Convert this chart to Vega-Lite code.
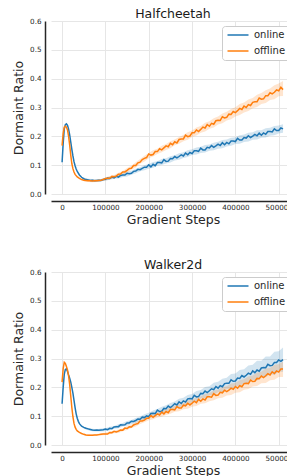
{
"$schema": "https://vega.github.io/schema/vega-lite/v6.json",
"background": "white",
"padding": {"left": 12, "top": 7, "right": 0, "bottom": 0},
"spacing": 32,
"config": {
 "font": "DejaVu Sans",
 "view": {"stroke": null},
 "axis": {"grid": true, "gridColor": "#e6e6e6", "gridWidth": 1, "domainColor": "#262626", "domainWidth": 1.5, "ticks": false, "labelFontSize": 7.2, "labelColor": "#262626", "titleFontSize": 12.5, "titleFontWeight": "normal", "titleColor": "#262626", "labelFlush": false, "labelOverlap": false},
 "title": {"fontSize": 12.5, "fontWeight": "normal", "color": "#1a1a1a", "offset": -3}
},
"datasets": {
"lines": [
{"p":"H","s":"online","x":0,"y":0.110},{"p":"H","s":"online","x":2500,"y":0.175},{"p":"H","s":"online","x":5000,"y":0.225},{"p":"H","s":"online","x":7500,"y":0.240},{"p":"H","s":"online","x":10000,"y":0.243},{"p":"H","s":"online","x":12500,"y":0.238},{"p":"H","s":"online","x":15000,"y":0.225},{"p":"H","s":"online","x":17500,"y":0.205},{"p":"H","s":"online","x":20000,"y":0.180},{"p":"H","s":"online","x":22500,"y":0.155},{"p":"H","s":"online","x":25000,"y":0.132},{"p":"H","s":"online","x":27500,"y":0.112},{"p":"H","s":"online","x":30000,"y":0.098},{"p":"H","s":"online","x":32500,"y":0.087},{"p":"H","s":"online","x":35000,"y":0.078},{"p":"H","s":"online","x":40000,"y":0.066},{"p":"H","s":"online","x":45000,"y":0.058},{"p":"H","s":"online","x":50000,"y":0.053},{"p":"H","s":"online","x":55000,"y":0.050},{"p":"H","s":"online","x":60000,"y":0.049},{"p":"H","s":"online","x":65000,"y":0.047},{"p":"H","s":"online","x":70000,"y":0.048},{"p":"H","s":"online","x":75000,"y":0.046},{"p":"H","s":"online","x":80000,"y":0.047},{"p":"H","s":"online","x":85000,"y":0.048},{"p":"H","s":"online","x":90000,"y":0.047},{"p":"H","s":"online","x":95000,"y":0.050},
{"p":"H","s":"online","x":100000,"y":0.051},{"p":"H","s":"online","x":105000,"y":0.055},{"p":"H","s":"online","x":110000,"y":0.0535},{"p":"H","s":"online","x":115000,"y":0.0585},{"p":"H","s":"online","x":120000,"y":0.056},{"p":"H","s":"online","x":125000,"y":0.061},{"p":"H","s":"online","x":130000,"y":0.0585},{"p":"H","s":"online","x":135000,"y":0.0645},{"p":"H","s":"online","x":140000,"y":0.0655},{"p":"H","s":"online","x":145000,"y":0.0655},{"p":"H","s":"online","x":150000,"y":0.072},{"p":"H","s":"online","x":155000,"y":0.070},{"p":"H","s":"online","x":160000,"y":0.072},{"p":"H","s":"online","x":165000,"y":0.0785},{"p":"H","s":"online","x":170000,"y":0.0795},{"p":"H","s":"online","x":175000,"y":0.0855},{"p":"H","s":"online","x":180000,"y":0.0845},{"p":"H","s":"online","x":185000,"y":0.089},{"p":"H","s":"online","x":190000,"y":0.093},{"p":"H","s":"online","x":195000,"y":0.0925},
{"p":"H","s":"online","x":200000,"y":0.101},{"p":"H","s":"online","x":205000,"y":0.094},{"p":"H","s":"online","x":210000,"y":0.103},{"p":"H","s":"online","x":215000,"y":0.098},{"p":"H","s":"online","x":220000,"y":0.109},{"p":"H","s":"online","x":225000,"y":0.109},{"p":"H","s":"online","x":230000,"y":0.108},{"p":"H","s":"online","x":235000,"y":0.119},{"p":"H","s":"online","x":240000,"y":0.113},{"p":"H","s":"online","x":245000,"y":0.114},{"p":"H","s":"online","x":250000,"y":0.123},{"p":"H","s":"online","x":255000,"y":0.122},{"p":"H","s":"online","x":260000,"y":0.130},{"p":"H","s":"online","x":265000,"y":0.125},{"p":"H","s":"online","x":270000,"y":0.130},{"p":"H","s":"online","x":275000,"y":0.136},{"p":"H","s":"online","x":280000,"y":0.132},{"p":"H","s":"online","x":285000,"y":0.142},{"p":"H","s":"online","x":290000,"y":0.136},{"p":"H","s":"online","x":295000,"y":0.144},
{"p":"H","s":"online","x":300000,"y":0.140},{"p":"H","s":"online","x":305000,"y":0.150},{"p":"H","s":"online","x":310000,"y":0.150},{"p":"H","s":"online","x":315000,"y":0.148},{"p":"H","s":"online","x":320000,"y":0.159},{"p":"H","s":"online","x":325000,"y":0.153},{"p":"H","s":"online","x":330000,"y":0.153},{"p":"H","s":"online","x":335000,"y":0.162},{"p":"H","s":"online","x":340000,"y":0.160},{"p":"H","s":"online","x":345000,"y":0.168},{"p":"H","s":"online","x":350000,"y":0.162},{"p":"H","s":"online","x":355000,"y":0.167},{"p":"H","s":"online","x":360000,"y":0.173},{"p":"H","s":"online","x":365000,"y":0.168},{"p":"H","s":"online","x":370000,"y":0.178},{"p":"H","s":"online","x":375000,"y":0.171},{"p":"H","s":"online","x":380000,"y":0.179},{"p":"H","s":"online","x":385000,"y":0.174},{"p":"H","s":"online","x":390000,"y":0.184},{"p":"H","s":"online","x":395000,"y":0.184},
{"p":"H","s":"online","x":400000,"y":0.182},{"p":"H","s":"online","x":405000,"y":0.193},{"p":"H","s":"online","x":410000,"y":0.187},{"p":"H","s":"online","x":415000,"y":0.187},{"p":"H","s":"online","x":420000,"y":0.196},{"p":"H","s":"online","x":425000,"y":0.194},{"p":"H","s":"online","x":430000,"y":0.202},{"p":"H","s":"online","x":435000,"y":0.196},{"p":"H","s":"online","x":440000,"y":0.201},{"p":"H","s":"online","x":445000,"y":0.207},{"p":"H","s":"online","x":450000,"y":0.202},{"p":"H","s":"online","x":455000,"y":0.211},{"p":"H","s":"online","x":460000,"y":0.204},{"p":"H","s":"online","x":465000,"y":0.212},{"p":"H","s":"online","x":470000,"y":0.207},{"p":"H","s":"online","x":475000,"y":0.217},{"p":"H","s":"online","x":480000,"y":0.217},{"p":"H","s":"online","x":485000,"y":0.215},{"p":"H","s":"online","x":490000,"y":0.226},{"p":"H","s":"online","x":495000,"y":0.220},{"p":"H","s":"online","x":500000,"y":0.220},{"p":"H","s":"online","x":505000,"y":0.229},{"p":"H","s":"online","x":510000,"y":0.226},
{"p":"H","s":"offline","x":0,"y":0.168},{"p":"H","s":"offline","x":2500,"y":0.210},{"p":"H","s":"offline","x":5000,"y":0.232},{"p":"H","s":"offline","x":7500,"y":0.235},{"p":"H","s":"offline","x":10000,"y":0.232},{"p":"H","s":"offline","x":12500,"y":0.222},{"p":"H","s":"offline","x":15000,"y":0.200},{"p":"H","s":"offline","x":17500,"y":0.170},{"p":"H","s":"offline","x":20000,"y":0.135},{"p":"H","s":"offline","x":22500,"y":0.105},{"p":"H","s":"offline","x":25000,"y":0.088},{"p":"H","s":"offline","x":27500,"y":0.076},{"p":"H","s":"offline","x":30000,"y":0.068},{"p":"H","s":"offline","x":35000,"y":0.059},{"p":"H","s":"offline","x":40000,"y":0.054},{"p":"H","s":"offline","x":45000,"y":0.050},{"p":"H","s":"offline","x":50000,"y":0.048},{"p":"H","s":"offline","x":55000,"y":0.047},{"p":"H","s":"offline","x":60000,"y":0.046},{"p":"H","s":"offline","x":65000,"y":0.046},{"p":"H","s":"offline","x":70000,"y":0.045},{"p":"H","s":"offline","x":75000,"y":0.046},{"p":"H","s":"offline","x":80000,"y":0.046},{"p":"H","s":"offline","x":85000,"y":0.047},{"p":"H","s":"offline","x":90000,"y":0.048},{"p":"H","s":"offline","x":95000,"y":0.050},
{"p":"H","s":"offline","x":100000,"y":0.0535},{"p":"H","s":"offline","x":105000,"y":0.0545},{"p":"H","s":"offline","x":110000,"y":0.0545},{"p":"H","s":"offline","x":115000,"y":0.061},{"p":"H","s":"offline","x":120000,"y":0.060},{"p":"H","s":"offline","x":125000,"y":0.062},{"p":"H","s":"offline","x":130000,"y":0.0685},{"p":"H","s":"offline","x":135000,"y":0.0695},{"p":"H","s":"offline","x":140000,"y":0.0765},{"p":"H","s":"offline","x":145000,"y":0.0765},{"p":"H","s":"offline","x":150000,"y":0.082},{"p":"H","s":"offline","x":155000,"y":0.088},{"p":"H","s":"offline","x":160000,"y":0.0895},{"p":"H","s":"offline","x":165000,"y":0.0985},{"p":"H","s":"offline","x":170000,"y":0.099},{"p":"H","s":"offline","x":175000,"y":0.108},{"p":"H","s":"offline","x":180000,"y":0.1105},{"p":"H","s":"offline","x":185000,"y":0.1195},{"p":"H","s":"offline","x":190000,"y":0.1235},{"p":"H","s":"offline","x":195000,"y":0.1265},
{"p":"H","s":"offline","x":200000,"y":0.139},{"p":"H","s":"offline","x":205000,"y":0.135},{"p":"H","s":"offline","x":210000,"y":0.137},{"p":"H","s":"offline","x":215000,"y":0.147},{"p":"H","s":"offline","x":220000,"y":0.147},{"p":"H","s":"offline","x":225000,"y":0.157},{"p":"H","s":"offline","x":230000,"y":0.153},{"p":"H","s":"offline","x":235000,"y":0.160},{"p":"H","s":"offline","x":240000,"y":0.167},{"p":"H","s":"offline","x":245000,"y":0.164},{"p":"H","s":"offline","x":250000,"y":0.176},{"p":"H","s":"offline","x":255000,"y":0.171},{"p":"H","s":"offline","x":260000,"y":0.181},{"p":"H","s":"offline","x":265000,"y":0.177},{"p":"H","s":"offline","x":270000,"y":0.189},{"p":"H","s":"offline","x":275000,"y":0.191},{"p":"H","s":"offline","x":280000,"y":0.191},{"p":"H","s":"offline","x":285000,"y":0.204},{"p":"H","s":"offline","x":290000,"y":0.199},{"p":"H","s":"offline","x":295000,"y":0.201},
{"p":"H","s":"offline","x":300000,"y":0.212},{"p":"H","s":"offline","x":305000,"y":0.212},{"p":"H","s":"offline","x":310000,"y":0.222},{"p":"H","s":"offline","x":315000,"y":0.217},{"p":"H","s":"offline","x":320000,"y":0.224},{"p":"H","s":"offline","x":325000,"y":0.232},{"p":"H","s":"offline","x":330000,"y":0.229},{"p":"H","s":"offline","x":335000,"y":0.241},{"p":"H","s":"offline","x":340000,"y":0.235},{"p":"H","s":"offline","x":345000,"y":0.245},{"p":"H","s":"offline","x":350000,"y":0.242},{"p":"H","s":"offline","x":355000,"y":0.254},{"p":"H","s":"offline","x":360000,"y":0.256},{"p":"H","s":"offline","x":365000,"y":0.255},{"p":"H","s":"offline","x":370000,"y":0.268},{"p":"H","s":"offline","x":375000,"y":0.264},{"p":"H","s":"offline","x":380000,"y":0.266},{"p":"H","s":"offline","x":385000,"y":0.277},{"p":"H","s":"offline","x":390000,"y":0.276},{"p":"H","s":"offline","x":395000,"y":0.286},
{"p":"H","s":"offline","x":400000,"y":0.282},{"p":"H","s":"offline","x":405000,"y":0.289},{"p":"H","s":"offline","x":410000,"y":0.297},{"p":"H","s":"offline","x":415000,"y":0.293},{"p":"H","s":"offline","x":420000,"y":0.305},{"p":"H","s":"offline","x":425000,"y":0.300},{"p":"H","s":"offline","x":430000,"y":0.310},{"p":"H","s":"offline","x":435000,"y":0.307},{"p":"H","s":"offline","x":440000,"y":0.318},{"p":"H","s":"offline","x":445000,"y":0.320},{"p":"H","s":"offline","x":450000,"y":0.320},{"p":"H","s":"offline","x":455000,"y":0.333},{"p":"H","s":"offline","x":460000,"y":0.329},{"p":"H","s":"offline","x":465000,"y":0.330},{"p":"H","s":"offline","x":470000,"y":0.341},{"p":"H","s":"offline","x":475000,"y":0.341},{"p":"H","s":"offline","x":480000,"y":0.351},{"p":"H","s":"offline","x":485000,"y":0.347},{"p":"H","s":"offline","x":490000,"y":0.353},{"p":"H","s":"offline","x":495000,"y":0.361},{"p":"H","s":"offline","x":500000,"y":0.358},{"p":"H","s":"offline","x":505000,"y":0.370},{"p":"H","s":"offline","x":510000,"y":0.362},
{"p":"W","s":"online","x":0,"y":0.143},{"p":"W","s":"online","x":2500,"y":0.200},{"p":"W","s":"online","x":5000,"y":0.245},{"p":"W","s":"online","x":7500,"y":0.262},{"p":"W","s":"online","x":10000,"y":0.264},{"p":"W","s":"online","x":12500,"y":0.255},{"p":"W","s":"online","x":15000,"y":0.243},{"p":"W","s":"online","x":17500,"y":0.232},{"p":"W","s":"online","x":20000,"y":0.218},{"p":"W","s":"online","x":22500,"y":0.200},{"p":"W","s":"online","x":25000,"y":0.180},{"p":"W","s":"online","x":27500,"y":0.155},{"p":"W","s":"online","x":30000,"y":0.130},{"p":"W","s":"online","x":32500,"y":0.108},{"p":"W","s":"online","x":35000,"y":0.093},{"p":"W","s":"online","x":37500,"y":0.082},{"p":"W","s":"online","x":40000,"y":0.074},{"p":"W","s":"online","x":45000,"y":0.065},{"p":"W","s":"online","x":50000,"y":0.061},{"p":"W","s":"online","x":55000,"y":0.058},{"p":"W","s":"online","x":60000,"y":0.056},{"p":"W","s":"online","x":65000,"y":0.054},{"p":"W","s":"online","x":70000,"y":0.052},{"p":"W","s":"online","x":75000,"y":0.051},{"p":"W","s":"online","x":80000,"y":0.052},{"p":"W","s":"online","x":85000,"y":0.051},{"p":"W","s":"online","x":90000,"y":0.052},{"p":"W","s":"online","x":95000,"y":0.053},
{"p":"W","s":"online","x":100000,"y":0.0555},{"p":"W","s":"online","x":105000,"y":0.053},{"p":"W","s":"online","x":110000,"y":0.058},{"p":"W","s":"online","x":115000,"y":0.0565},{"p":"W","s":"online","x":120000,"y":0.0625},{"p":"W","s":"online","x":125000,"y":0.0635},{"p":"W","s":"online","x":130000,"y":0.0635},{"p":"W","s":"online","x":135000,"y":0.070},{"p":"W","s":"online","x":140000,"y":0.069},{"p":"W","s":"online","x":145000,"y":0.070},{"p":"W","s":"online","x":150000,"y":0.0765},{"p":"W","s":"online","x":155000,"y":0.0765},{"p":"W","s":"online","x":160000,"y":0.0825},{"p":"W","s":"online","x":165000,"y":0.0815},{"p":"W","s":"online","x":170000,"y":0.085},{"p":"W","s":"online","x":175000,"y":0.090},{"p":"W","s":"online","x":180000,"y":0.0895},{"p":"W","s":"online","x":185000,"y":0.0965},{"p":"W","s":"online","x":190000,"y":0.095},{"p":"W","s":"online","x":195000,"y":0.101},
{"p":"W","s":"online","x":200000,"y":0.098},{"p":"W","s":"online","x":205000,"y":0.109},{"p":"W","s":"online","x":210000,"y":0.110},{"p":"W","s":"online","x":215000,"y":0.109},{"p":"W","s":"online","x":220000,"y":0.121},{"p":"W","s":"online","x":225000,"y":0.116},{"p":"W","s":"online","x":230000,"y":0.117},{"p":"W","s":"online","x":235000,"y":0.127},{"p":"W","s":"online","x":240000,"y":0.126},{"p":"W","s":"online","x":245000,"y":0.135},{"p":"W","s":"online","x":250000,"y":0.130},{"p":"W","s":"online","x":255000,"y":0.136},{"p":"W","s":"online","x":260000,"y":0.143},{"p":"W","s":"online","x":265000,"y":0.139},{"p":"W","s":"online","x":270000,"y":0.150},{"p":"W","s":"online","x":275000,"y":0.144},{"p":"W","s":"online","x":280000,"y":0.153},{"p":"W","s":"online","x":285000,"y":0.149},{"p":"W","s":"online","x":290000,"y":0.160},{"p":"W","s":"online","x":295000,"y":0.161},
{"p":"W","s":"online","x":300000,"y":0.160},{"p":"W","s":"online","x":305000,"y":0.172},{"p":"W","s":"online","x":310000,"y":0.167},{"p":"W","s":"online","x":315000,"y":0.168},{"p":"W","s":"online","x":320000,"y":0.179},{"p":"W","s":"online","x":325000,"y":0.178},{"p":"W","s":"online","x":330000,"y":0.187},{"p":"W","s":"online","x":335000,"y":0.182},{"p":"W","s":"online","x":340000,"y":0.188},{"p":"W","s":"online","x":345000,"y":0.195},{"p":"W","s":"online","x":350000,"y":0.192},{"p":"W","s":"online","x":355000,"y":0.203},{"p":"W","s":"online","x":360000,"y":0.197},{"p":"W","s":"online","x":365000,"y":0.206},{"p":"W","s":"online","x":370000,"y":0.202},{"p":"W","s":"online","x":375000,"y":0.213},{"p":"W","s":"online","x":380000,"y":0.214},{"p":"W","s":"online","x":385000,"y":0.214},{"p":"W","s":"online","x":390000,"y":0.226},{"p":"W","s":"online","x":395000,"y":0.221},
{"p":"W","s":"online","x":400000,"y":0.222},{"p":"W","s":"online","x":405000,"y":0.232},{"p":"W","s":"online","x":410000,"y":0.231},{"p":"W","s":"online","x":415000,"y":0.241},{"p":"W","s":"online","x":420000,"y":0.236},{"p":"W","s":"online","x":425000,"y":0.242},{"p":"W","s":"online","x":430000,"y":0.249},{"p":"W","s":"online","x":435000,"y":0.245},{"p":"W","s":"online","x":440000,"y":0.257},{"p":"W","s":"online","x":445000,"y":0.251},{"p":"W","s":"online","x":450000,"y":0.260},{"p":"W","s":"online","x":455000,"y":0.256},{"p":"W","s":"online","x":460000,"y":0.267},{"p":"W","s":"online","x":465000,"y":0.269},{"p":"W","s":"online","x":470000,"y":0.268},{"p":"W","s":"online","x":475000,"y":0.280},{"p":"W","s":"online","x":480000,"y":0.275},{"p":"W","s":"online","x":485000,"y":0.276},{"p":"W","s":"online","x":490000,"y":0.286},{"p":"W","s":"online","x":495000,"y":0.286},{"p":"W","s":"online","x":500000,"y":0.295},{"p":"W","s":"online","x":505000,"y":0.290},{"p":"W","s":"online","x":510000,"y":0.296},
{"p":"W","s":"offline","x":0,"y":0.218},{"p":"W","s":"offline","x":2500,"y":0.265},{"p":"W","s":"offline","x":5000,"y":0.287},{"p":"W","s":"offline","x":7500,"y":0.283},{"p":"W","s":"offline","x":10000,"y":0.272},{"p":"W","s":"offline","x":12500,"y":0.260},{"p":"W","s":"offline","x":15000,"y":0.240},{"p":"W","s":"offline","x":17500,"y":0.210},{"p":"W","s":"offline","x":20000,"y":0.170},{"p":"W","s":"offline","x":22500,"y":0.130},{"p":"W","s":"offline","x":25000,"y":0.098},{"p":"W","s":"offline","x":27500,"y":0.075},{"p":"W","s":"offline","x":30000,"y":0.062},{"p":"W","s":"offline","x":32500,"y":0.054},{"p":"W","s":"offline","x":35000,"y":0.049},{"p":"W","s":"offline","x":40000,"y":0.044},{"p":"W","s":"offline","x":45000,"y":0.040},{"p":"W","s":"offline","x":50000,"y":0.037},{"p":"W","s":"offline","x":55000,"y":0.035},{"p":"W","s":"offline","x":60000,"y":0.034},{"p":"W","s":"offline","x":65000,"y":0.034},{"p":"W","s":"offline","x":70000,"y":0.034},{"p":"W","s":"offline","x":75000,"y":0.035},{"p":"W","s":"offline","x":80000,"y":0.035},{"p":"W","s":"offline","x":85000,"y":0.036},{"p":"W","s":"offline","x":90000,"y":0.037},{"p":"W","s":"offline","x":95000,"y":0.038},
{"p":"W","s":"offline","x":100000,"y":0.038},{"p":"W","s":"offline","x":105000,"y":0.038},{"p":"W","s":"offline","x":110000,"y":0.0435},{"p":"W","s":"offline","x":115000,"y":0.0425},{"p":"W","s":"offline","x":120000,"y":0.0475},{"p":"W","s":"offline","x":125000,"y":0.0455},{"p":"W","s":"offline","x":130000,"y":0.048},{"p":"W","s":"offline","x":135000,"y":0.052},{"p":"W","s":"offline","x":140000,"y":0.0515},{"p":"W","s":"offline","x":145000,"y":0.0585},{"p":"W","s":"offline","x":150000,"y":0.057},{"p":"W","s":"offline","x":155000,"y":0.063},{"p":"W","s":"offline","x":160000,"y":0.0625},{"p":"W","s":"offline","x":165000,"y":0.0695},{"p":"W","s":"offline","x":170000,"y":0.0725},{"p":"W","s":"offline","x":175000,"y":0.0745},{"p":"W","s":"offline","x":180000,"y":0.083},{"p":"W","s":"offline","x":185000,"y":0.083},{"p":"W","s":"offline","x":190000,"y":0.086},{"p":"W","s":"offline","x":195000,"y":0.0925},
{"p":"W","s":"offline","x":200000,"y":0.093},{"p":"W","s":"offline","x":205000,"y":0.102},{"p":"W","s":"offline","x":210000,"y":0.096},{"p":"W","s":"offline","x":215000,"y":0.102},{"p":"W","s":"offline","x":220000,"y":0.108},{"p":"W","s":"offline","x":225000,"y":0.104},{"p":"W","s":"offline","x":230000,"y":0.114},{"p":"W","s":"offline","x":235000,"y":0.108},{"p":"W","s":"offline","x":240000,"y":0.116},{"p":"W","s":"offline","x":245000,"y":0.112},{"p":"W","s":"offline","x":250000,"y":0.123},{"p":"W","s":"offline","x":255000,"y":0.123},{"p":"W","s":"offline","x":260000,"y":0.122},{"p":"W","s":"offline","x":265000,"y":0.133},{"p":"W","s":"offline","x":270000,"y":0.128},{"p":"W","s":"offline","x":275000,"y":0.128},{"p":"W","s":"offline","x":280000,"y":0.138},{"p":"W","s":"offline","x":285000,"y":0.136},{"p":"W","s":"offline","x":290000,"y":0.145},{"p":"W","s":"offline","x":295000,"y":0.139},
{"p":"W","s":"offline","x":300000,"y":0.145},{"p":"W","s":"offline","x":305000,"y":0.152},{"p":"W","s":"offline","x":310000,"y":0.147},{"p":"W","s":"offline","x":315000,"y":0.158},{"p":"W","s":"offline","x":320000,"y":0.152},{"p":"W","s":"offline","x":325000,"y":0.160},{"p":"W","s":"offline","x":330000,"y":0.156},{"p":"W","s":"offline","x":335000,"y":0.167},{"p":"W","s":"offline","x":340000,"y":0.167},{"p":"W","s":"offline","x":345000,"y":0.166},{"p":"W","s":"offline","x":350000,"y":0.178},{"p":"W","s":"offline","x":355000,"y":0.172},{"p":"W","s":"offline","x":360000,"y":0.173},{"p":"W","s":"offline","x":365000,"y":0.183},{"p":"W","s":"offline","x":370000,"y":0.181},{"p":"W","s":"offline","x":375000,"y":0.190},{"p":"W","s":"offline","x":380000,"y":0.185},{"p":"W","s":"offline","x":385000,"y":0.190},{"p":"W","s":"offline","x":390000,"y":0.197},{"p":"W","s":"offline","x":395000,"y":0.193},
{"p":"W","s":"offline","x":400000,"y":0.203},{"p":"W","s":"offline","x":405000,"y":0.197},{"p":"W","s":"offline","x":410000,"y":0.206},{"p":"W","s":"offline","x":415000,"y":0.202},{"p":"W","s":"offline","x":420000,"y":0.213},{"p":"W","s":"offline","x":425000,"y":0.214},{"p":"W","s":"offline","x":430000,"y":0.213},{"p":"W","s":"offline","x":435000,"y":0.225},{"p":"W","s":"offline","x":440000,"y":0.220},{"p":"W","s":"offline","x":445000,"y":0.221},{"p":"W","s":"offline","x":450000,"y":0.231},{"p":"W","s":"offline","x":455000,"y":0.230},{"p":"W","s":"offline","x":460000,"y":0.239},{"p":"W","s":"offline","x":465000,"y":0.234},{"p":"W","s":"offline","x":470000,"y":0.240},{"p":"W","s":"offline","x":475000,"y":0.247},{"p":"W","s":"offline","x":480000,"y":0.243},{"p":"W","s":"offline","x":485000,"y":0.254},{"p":"W","s":"offline","x":490000,"y":0.248},{"p":"W","s":"offline","x":495000,"y":0.257},{"p":"W","s":"offline","x":500000,"y":0.253},{"p":"W","s":"offline","x":505000,"y":0.264},{"p":"W","s":"offline","x":510000,"y":0.264}
],
"bands": [
{"p":"H","s":"online","x":50000,"lo":0.049,"hi":0.057},{"p":"H","s":"online","x":60000,"lo":0.045,"hi":0.053},{"p":"H","s":"online","x":70000,"lo":0.044,"hi":0.052},{"p":"H","s":"online","x":80000,"lo":0.043,"hi":0.051},{"p":"H","s":"online","x":90000,"lo":0.044,"hi":0.052},{"p":"H","s":"online","x":100000,"lo":0.046,"hi":0.056},{"p":"H","s":"online","x":110000,"lo":0.049,"hi":0.061},{"p":"H","s":"online","x":120000,"lo":0.053,"hi":0.063},{"p":"H","s":"online","x":130000,"lo":0.054,"hi":0.068},{"p":"H","s":"online","x":140000,"lo":0.059,"hi":0.071},{"p":"H","s":"online","x":150000,"lo":0.061,"hi":0.077},{"p":"H","s":"online","x":160000,"lo":0.067,"hi":0.081},{"p":"H","s":"online","x":170000,"lo":0.072,"hi":0.088},{"p":"H","s":"online","x":180000,"lo":0.079,"hi":0.093},{"p":"H","s":"online","x":190000,"lo":0.082,"hi":0.100},{"p":"H","s":"online","x":200000,"lo":0.088,"hi":0.104},{"p":"H","s":"online","x":210000,"lo":0.091,"hi":0.111},{"p":"H","s":"online","x":220000,"lo":0.098,"hi":0.114},{"p":"H","s":"online","x":230000,"lo":0.101,"hi":0.121},{"p":"H","s":"online","x":240000,"lo":0.106,"hi":0.124},{"p":"H","s":"online","x":250000,"lo":0.109,"hi":0.131},{"p":"H","s":"online","x":260000,"lo":0.116,"hi":0.134},{"p":"H","s":"online","x":270000,"lo":0.119,"hi":0.141},{"p":"H","s":"online","x":280000,"lo":0.125,"hi":0.145},{"p":"H","s":"online","x":290000,"lo":0.128,"hi":0.152},{"p":"H","s":"online","x":300000,"lo":0.135,"hi":0.155},{"p":"H","s":"online","x":310000,"lo":0.137,"hi":0.161},{"p":"H","s":"online","x":320000,"lo":0.142,"hi":0.164},{"p":"H","s":"online","x":330000,"lo":0.144,"hi":0.170},{"p":"H","s":"online","x":340000,"lo":0.150,"hi":0.172},{"p":"H","s":"online","x":350000,"lo":0.152,"hi":0.178},{"p":"H","s":"online","x":360000,"lo":0.157,"hi":0.181},{"p":"H","s":"online","x":370000,"lo":0.159,"hi":0.187},{"p":"H","s":"online","x":380000,"lo":0.165,"hi":0.189},{"p":"H","s":"online","x":390000,"lo":0.167,"hi":0.195},{"p":"H","s":"online","x":400000,"lo":0.173,"hi":0.197},{"p":"H","s":"online","x":410000,"lo":0.174,"hi":0.204},{"p":"H","s":"online","x":420000,"lo":0.180,"hi":0.206},{"p":"H","s":"online","x":430000,"lo":0.182,"hi":0.212},{"p":"H","s":"online","x":440000,"lo":0.188,"hi":0.214},{"p":"H","s":"online","x":450000,"lo":0.189,"hi":0.221},{"p":"H","s":"online","x":460000,"lo":0.195,"hi":0.221},{"p":"H","s":"online","x":470000,"lo":0.196,"hi":0.228},{"p":"H","s":"online","x":480000,"lo":0.202,"hi":0.230},{"p":"H","s":"online","x":490000,"lo":0.204,"hi":0.236},{"p":"H","s":"online","x":500000,"lo":0.210,"hi":0.238},{"p":"H","s":"online","x":510000,"lo":0.212,"hi":0.242},
{"p":"H","s":"offline","x":50000,"lo":0.044,"hi":0.052},{"p":"H","s":"offline","x":60000,"lo":0.042,"hi":0.050},{"p":"H","s":"offline","x":70000,"lo":0.041,"hi":0.049},{"p":"H","s":"offline","x":80000,"lo":0.042,"hi":0.050},{"p":"H","s":"offline","x":90000,"lo":0.044,"hi":0.052},{"p":"H","s":"offline","x":100000,"lo":0.047,"hi":0.057},{"p":"H","s":"offline","x":110000,"lo":0.050,"hi":0.062},{"p":"H","s":"offline","x":120000,"lo":0.056,"hi":0.066},{"p":"H","s":"offline","x":130000,"lo":0.060,"hi":0.074},{"p":"H","s":"offline","x":140000,"lo":0.068,"hi":0.080},{"p":"H","s":"offline","x":150000,"lo":0.074,"hi":0.090},{"p":"H","s":"offline","x":160000,"lo":0.084,"hi":0.098},{"p":"H","s":"offline","x":170000,"lo":0.092,"hi":0.110},{"p":"H","s":"offline","x":180000,"lo":0.105,"hi":0.121},{"p":"H","s":"offline","x":190000,"lo":0.113,"hi":0.133},{"p":"H","s":"offline","x":200000,"lo":0.124,"hi":0.142},{"p":"H","s":"offline","x":210000,"lo":0.130,"hi":0.152},{"p":"H","s":"offline","x":220000,"lo":0.139,"hi":0.157},{"p":"H","s":"offline","x":230000,"lo":0.145,"hi":0.167},{"p":"H","s":"offline","x":240000,"lo":0.153,"hi":0.173},{"p":"H","s":"offline","x":250000,"lo":0.159,"hi":0.183},{"p":"H","s":"offline","x":260000,"lo":0.169,"hi":0.189},{"p":"H","s":"offline","x":270000,"lo":0.174,"hi":0.198},{"p":"H","s":"offline","x":280000,"lo":0.183,"hi":0.205},{"p":"H","s":"offline","x":290000,"lo":0.188,"hi":0.214},{"p":"H","s":"offline","x":300000,"lo":0.198,"hi":0.220},{"p":"H","s":"offline","x":310000,"lo":0.203,"hi":0.231},{"p":"H","s":"offline","x":320000,"lo":0.212,"hi":0.236},{"p":"H","s":"offline","x":330000,"lo":0.217,"hi":0.247},{"p":"H","s":"offline","x":340000,"lo":0.226,"hi":0.252},{"p":"H","s":"offline","x":350000,"lo":0.231,"hi":0.263},{"p":"H","s":"offline","x":360000,"lo":0.241,"hi":0.269},{"p":"H","s":"offline","x":370000,"lo":0.245,"hi":0.279},{"p":"H","s":"offline","x":380000,"lo":0.255,"hi":0.285},{"p":"H","s":"offline","x":390000,"lo":0.259,"hi":0.295},{"p":"H","s":"offline","x":400000,"lo":0.269,"hi":0.301},{"p":"H","s":"offline","x":410000,"lo":0.274,"hi":0.312},{"p":"H","s":"offline","x":420000,"lo":0.283,"hi":0.317},{"p":"H","s":"offline","x":430000,"lo":0.288,"hi":0.328},{"p":"H","s":"offline","x":440000,"lo":0.297,"hi":0.333},{"p":"H","s":"offline","x":450000,"lo":0.302,"hi":0.344},{"p":"H","s":"offline","x":460000,"lo":0.312,"hi":0.350},{"p":"H","s":"offline","x":470000,"lo":0.316,"hi":0.360},{"p":"H","s":"offline","x":480000,"lo":0.326,"hi":0.366},{"p":"H","s":"offline","x":490000,"lo":0.329,"hi":0.377},{"p":"H","s":"offline","x":500000,"lo":0.339,"hi":0.383},{"p":"H","s":"offline","x":510000,"lo":0.340,"hi":0.392},
{"p":"W","s":"online","x":50000,"lo":0.056,"hi":0.064},{"p":"W","s":"online","x":60000,"lo":0.051,"hi":0.059},{"p":"W","s":"online","x":70000,"lo":0.048,"hi":0.056},{"p":"W","s":"online","x":80000,"lo":0.047,"hi":0.055},{"p":"W","s":"online","x":90000,"lo":0.047,"hi":0.057},{"p":"W","s":"online","x":100000,"lo":0.048,"hi":0.058},{"p":"W","s":"online","x":110000,"lo":0.051,"hi":0.063},{"p":"W","s":"online","x":120000,"lo":0.056,"hi":0.066},{"p":"W","s":"online","x":130000,"lo":0.058,"hi":0.072},{"p":"W","s":"online","x":140000,"lo":0.064,"hi":0.076},{"p":"W","s":"online","x":150000,"lo":0.067,"hi":0.083},{"p":"W","s":"online","x":160000,"lo":0.073,"hi":0.087},{"p":"W","s":"online","x":170000,"lo":0.076,"hi":0.094},{"p":"W","s":"online","x":180000,"lo":0.083,"hi":0.099},{"p":"W","s":"online","x":190000,"lo":0.087,"hi":0.107},{"p":"W","s":"online","x":200000,"lo":0.094,"hi":0.112},{"p":"W","s":"online","x":210000,"lo":0.098,"hi":0.120},{"p":"W","s":"online","x":220000,"lo":0.105,"hi":0.125},{"p":"W","s":"online","x":230000,"lo":0.109,"hi":0.133},{"p":"W","s":"online","x":240000,"lo":0.116,"hi":0.138},{"p":"W","s":"online","x":250000,"lo":0.120,"hi":0.146},{"p":"W","s":"online","x":260000,"lo":0.127,"hi":0.151},{"p":"W","s":"online","x":270000,"lo":0.130,"hi":0.160},{"p":"W","s":"online","x":280000,"lo":0.138,"hi":0.164},{"p":"W","s":"online","x":290000,"lo":0.141,"hi":0.173},{"p":"W","s":"online","x":300000,"lo":0.149,"hi":0.177},{"p":"W","s":"online","x":310000,"lo":0.151,"hi":0.187},{"p":"W","s":"online","x":320000,"lo":0.161,"hi":0.191},{"p":"W","s":"online","x":330000,"lo":0.163,"hi":0.201},{"p":"W","s":"online","x":340000,"lo":0.172,"hi":0.204},{"p":"W","s":"online","x":350000,"lo":0.174,"hi":0.216},{"p":"W","s":"online","x":360000,"lo":0.183,"hi":0.219},{"p":"W","s":"online","x":370000,"lo":0.184,"hi":0.230},{"p":"W","s":"online","x":380000,"lo":0.193,"hi":0.233},{"p":"W","s":"online","x":390000,"lo":0.194,"hi":0.246},{"p":"W","s":"online","x":400000,"lo":0.204,"hi":0.248},{"p":"W","s":"online","x":410000,"lo":0.204,"hi":0.260},{"p":"W","s":"online","x":420000,"lo":0.215,"hi":0.263},{"p":"W","s":"online","x":430000,"lo":0.214,"hi":0.276},{"p":"W","s":"online","x":440000,"lo":0.226,"hi":0.278},{"p":"W","s":"online","x":450000,"lo":0.224,"hi":0.292},{"p":"W","s":"online","x":460000,"lo":0.236,"hi":0.292},{"p":"W","s":"online","x":470000,"lo":0.235,"hi":0.307},{"p":"W","s":"online","x":480000,"lo":0.247,"hi":0.307},{"p":"W","s":"online","x":490000,"lo":0.243,"hi":0.323},{"p":"W","s":"online","x":500000,"lo":0.255,"hi":0.325},{"p":"W","s":"online","x":510000,"lo":0.254,"hi":0.338},
{"p":"W","s":"offline","x":50000,"lo":0.034,"hi":0.040},{"p":"W","s":"offline","x":60000,"lo":0.031,"hi":0.037},{"p":"W","s":"offline","x":70000,"lo":0.031,"hi":0.037},{"p":"W","s":"offline","x":80000,"lo":0.032,"hi":0.038},{"p":"W","s":"offline","x":90000,"lo":0.033,"hi":0.041},{"p":"W","s":"offline","x":100000,"lo":0.035,"hi":0.043},{"p":"W","s":"offline","x":110000,"lo":0.037,"hi":0.047},{"p":"W","s":"offline","x":120000,"lo":0.041,"hi":0.049},{"p":"W","s":"offline","x":130000,"lo":0.042,"hi":0.054},{"p":"W","s":"offline","x":140000,"lo":0.048,"hi":0.058},{"p":"W","s":"offline","x":150000,"lo":0.052,"hi":0.066},{"p":"W","s":"offline","x":160000,"lo":0.059,"hi":0.071},{"p":"W","s":"offline","x":170000,"lo":0.064,"hi":0.080},{"p":"W","s":"offline","x":180000,"lo":0.073,"hi":0.087},{"p":"W","s":"offline","x":190000,"lo":0.079,"hi":0.097},{"p":"W","s":"offline","x":200000,"lo":0.086,"hi":0.102},{"p":"W","s":"offline","x":210000,"lo":0.089,"hi":0.109},{"p":"W","s":"offline","x":220000,"lo":0.095,"hi":0.113},{"p":"W","s":"offline","x":230000,"lo":0.098,"hi":0.120},{"p":"W","s":"offline","x":240000,"lo":0.104,"hi":0.124},{"p":"W","s":"offline","x":250000,"lo":0.108,"hi":0.132},{"p":"W","s":"offline","x":260000,"lo":0.115,"hi":0.135},{"p":"W","s":"offline","x":270000,"lo":0.117,"hi":0.143},{"p":"W","s":"offline","x":280000,"lo":0.124,"hi":0.146},{"p":"W","s":"offline","x":290000,"lo":0.126,"hi":0.154},{"p":"W","s":"offline","x":300000,"lo":0.133,"hi":0.157},{"p":"W","s":"offline","x":310000,"lo":0.135,"hi":0.165},{"p":"W","s":"offline","x":320000,"lo":0.143,"hi":0.169},{"p":"W","s":"offline","x":330000,"lo":0.145,"hi":0.177},{"p":"W","s":"offline","x":340000,"lo":0.152,"hi":0.180},{"p":"W","s":"offline","x":350000,"lo":0.155,"hi":0.189},{"p":"W","s":"offline","x":360000,"lo":0.162,"hi":0.192},{"p":"W","s":"offline","x":370000,"lo":0.164,"hi":0.200},{"p":"W","s":"offline","x":380000,"lo":0.172,"hi":0.204},{"p":"W","s":"offline","x":390000,"lo":0.173,"hi":0.213},{"p":"W","s":"offline","x":400000,"lo":0.181,"hi":0.215},{"p":"W","s":"offline","x":410000,"lo":0.183,"hi":0.225},{"p":"W","s":"offline","x":420000,"lo":0.192,"hi":0.228},{"p":"W","s":"offline","x":430000,"lo":0.194,"hi":0.238},{"p":"W","s":"offline","x":440000,"lo":0.203,"hi":0.241},{"p":"W","s":"offline","x":450000,"lo":0.205,"hi":0.251},{"p":"W","s":"offline","x":460000,"lo":0.214,"hi":0.254},{"p":"W","s":"offline","x":470000,"lo":0.215,"hi":0.265},{"p":"W","s":"offline","x":480000,"lo":0.225,"hi":0.267},{"p":"W","s":"offline","x":490000,"lo":0.226,"hi":0.278},{"p":"W","s":"offline","x":500000,"lo":0.236,"hi":0.280},{"p":"W","s":"offline","x":510000,"lo":0.236,"hi":0.290}
]
},
"vconcat": [
{
 "title": "Halfcheetah",
 "width": 244, "height": 173,
 "encoding": {
  "x": {"field": "x", "type": "quantitative", "scale": {"domain": [-25600, 537600], "nice": false, "zero": false}, "axis": {"title": "Gradient Steps", "values": [0,100000,200000,300000,400000,500000], "format": "d", "offset": 7, "labelPadding": 2, "titlePadding": 3}},
  "y": {"type": "quantitative", "scale": {"domain": [0, 0.6], "nice": false}, "axis": {"title": "Dormaint Ratio", "values": [0,0.1,0.2,0.3,0.4,0.5,0.6], "format": ".1f", "offset": 6, "labelPadding": 4, "titlePadding": 4}}
 },
 "layer": [
  {"data": {"name": "bands"}, "transform": [{"filter": "datum.p == 'H' && datum.s == 'online'"}],
   "mark": {"type": "area", "opacity": 0.2, "color": "#1f77b4"},
   "encoding": {"y": {"field": "lo", "type": "quantitative", "title": "Dormaint Ratio"}, "y2": {"field": "hi"}}},
  {"data": {"name": "bands"}, "transform": [{"filter": "datum.p == 'H' && datum.s == 'offline'"}],
   "mark": {"type": "area", "opacity": 0.2, "color": "#ff7f0e"},
   "encoding": {"y": {"field": "lo", "type": "quantitative", "title": "Dormaint Ratio"}, "y2": {"field": "hi"}}},
  {"data": {"name": "lines"}, "transform": [{"filter": "datum.p == 'H'"}],
   "mark": {"type": "line", "strokeWidth": 1.5},
   "encoding": {
    "y": {"field": "y", "type": "quantitative", "title": "Dormaint Ratio"},
    "color": {"field": "s", "type": "nominal", "scale": {"domain": ["online","offline"], "range": ["#1f77b4","#ff7f0e"]}, "legend": {"title": null, "orient": "top-right", "offset": 5, "symbolType": "M-1,0H5", "symbolSize": 49, "symbolStrokeWidth": 1.5, "labelFontSize": 10, "labelOffset": 18, "rowPadding": 6, "padding": 4, "strokeColor": "#cccccc", "fillColor": "white", "cornerRadius": 3, "labelColor": "#262626"}}
   }}
 ]
},
{
 "title": "Walker2d",
 "width": 244, "height": 173,
 "encoding": {
  "x": {"field": "x", "type": "quantitative", "scale": {"domain": [-25600, 537600], "nice": false, "zero": false}, "axis": {"title": "Gradient Steps", "values": [0,100000,200000,300000,400000,500000], "format": "d", "offset": 7, "labelPadding": 2, "titlePadding": 3}},
  "y": {"type": "quantitative", "scale": {"domain": [0, 0.6], "nice": false}, "axis": {"title": "Dormaint Ratio", "values": [0,0.1,0.2,0.3,0.4,0.5,0.6], "format": ".1f", "offset": 6, "labelPadding": 4, "titlePadding": 4}}
 },
 "layer": [
  {"data": {"name": "bands"}, "transform": [{"filter": "datum.p == 'W' && datum.s == 'online'"}],
   "mark": {"type": "area", "opacity": 0.2, "color": "#1f77b4"},
   "encoding": {"y": {"field": "lo", "type": "quantitative", "title": "Dormaint Ratio"}, "y2": {"field": "hi"}}},
  {"data": {"name": "bands"}, "transform": [{"filter": "datum.p == 'W' && datum.s == 'offline'"}],
   "mark": {"type": "area", "opacity": 0.2, "color": "#ff7f0e"},
   "encoding": {"y": {"field": "lo", "type": "quantitative", "title": "Dormaint Ratio"}, "y2": {"field": "hi"}}},
  {"data": {"name": "lines"}, "transform": [{"filter": "datum.p == 'W'"}],
   "mark": {"type": "line", "strokeWidth": 1.5},
   "encoding": {
    "y": {"field": "y", "type": "quantitative", "title": "Dormaint Ratio"},
    "color": {"field": "s", "type": "nominal", "scale": {"domain": ["online","offline"], "range": ["#1f77b4","#ff7f0e"]}, "legend": {"title": null, "orient": "top-right", "offset": 5, "symbolType": "M-1,0H5", "symbolSize": 49, "symbolStrokeWidth": 1.5, "labelFontSize": 10, "labelOffset": 18, "rowPadding": 6, "padding": 4, "strokeColor": "#cccccc", "fillColor": "white", "cornerRadius": 3, "labelColor": "#262626"}}
   }}
 ]
}
],
"resolve": {"scale": {"color": "independent"}, "legend": {"color": "independent"}}
}
